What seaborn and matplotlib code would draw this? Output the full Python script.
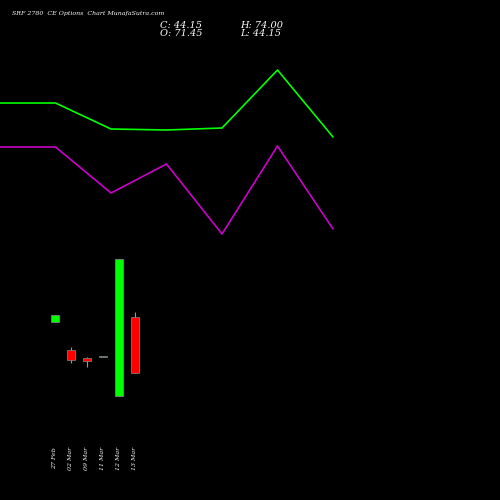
import matplotlib
matplotlib.use('Agg')
import matplotlib.pyplot as plt
import seaborn as sns
import pandas as pd

sns.set_style('dark')
plt.rcParams['font.family'] = ['DejaVu Serif']

## candle data
dates = ['27 Feb', '02 Mar', '09 Mar', '11 Mar', '12 Mar', '13 Mar']
opens = [69.0, 55.4, 51.5, 52.0, 32.9, 71.45]
closes = [72.4, 50.5, 50.0, 52.0, 99.7, 44.15]
highs = [72.4, 56.8, 52.0, 52.0, 99.7, 74.0]
lows = [69.0, 49.0, 47.1, 52.0, 32.9, 44.15]

## indicator lines (upper panel)
line_idx = [0, 1, 2, 3, 4, 5, 6]
green_line = [103, 103, 129, 130, 128, 70, 137]
magenta_line = [147, 147, 193, 164, 234, 146, 229]

fig = plt.figure(figsize=(5, 5), dpi=100, facecolor='black')

## upper lines axis
ax1 = fig.add_axes([0, 0, 1, 1])
ax1.set_facecolor('none')
df = pd.DataFrame({'i': line_idx, 'g': green_line, 'm': magenta_line})
sns.lineplot(data=df, x='i', y='g', color='#00ff00', lw=1.2, ax=ax1)
sns.lineplot(data=df, x='i', y='m', color='#cc00cc', lw=1.2, ax=ax1)
ax1.set_xlim(0, 500 / 55.5)
ax1.set_ylim(500, 0)
ax1.axis('off')

## candle axis
ax2 = fig.add_axes([0, 0, 1, 1])
ax2.set_facecolor('none')
pos = list(range(len(dates)))
for i in pos:
    up = closes[i] > opens[i]
    col = '#00ff00' if up else '#ff0000'
    if closes[i] == opens[i]:
        col = '#559955'
    ax2.vlines(i, lows[i], highs[i], color='#999999', lw=0.8, zorder=1)
    lo, hi = min(opens[i], closes[i]), max(opens[i], closes[i])
    ax2.bar(i, max(hi - lo, 0.4), bottom=lo, width=0.56, color=col,
            edgecolor='#888888', lw=0.5, zorder=2)
# pixel mapping: x center 55 + 16*i, price = 71.45 - (y-317)*0.4875
ax2.set_xlim(-55 / 16, (500 - 55) / 16)
ax2.set_ylim(71.45 - (500 - 317) * 0.4875, 71.45 + 317 * 0.4875)
ax2.axis('off')
for i, d in zip(pos, dates):
    fig.text((55 + 16 * i) / 500, 1 - 458 / 500, d, rotation=90, color='white',
             fontsize=4.5, style='italic', ha='center', va='center')

fig.text(0.024, 0.972, 'SRF 2780  CE Options  Chart MunafaSutra.com', color='white',
         fontsize=4.5, style='italic', va='center')
fig.text(0.32, 0.95, 'C: 44.15', color='white', fontsize=7, style='italic', va='center')
fig.text(0.32, 0.932, 'O: 71.45', color='white', fontsize=7, style='italic', va='center')
fig.text(0.48, 0.95, 'H: 74.00', color='white', fontsize=7, style='italic', va='center')
fig.text(0.48, 0.932, 'L: 44.15', color='white', fontsize=7, style='italic', va='center')

fig.savefig('out.png', dpi=100, facecolor='black')
